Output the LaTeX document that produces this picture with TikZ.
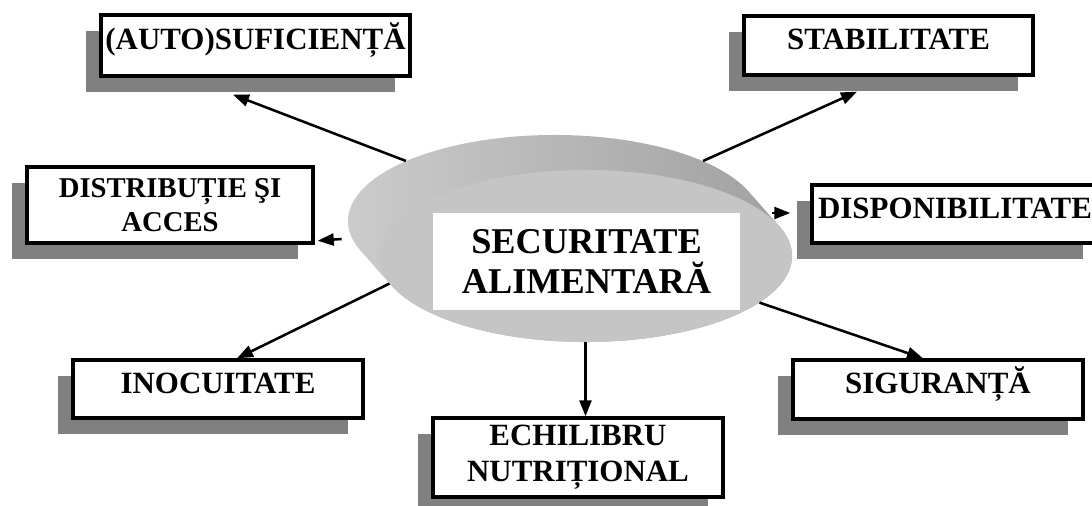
\documentclass[tikz,border=0pt]{standalone}
\usepackage{fontspec}
\setmainfont{Liberation Serif}
\usetikzlibrary{shapes.geometric,shadows,arrows.meta}

\definecolor{shadowgray}{RGB}{128,128,128}
\definecolor{discface}{RGB}{197,197,197}

\tikzset{
  box/.style={draw, line width=2.4pt, fill=white, align=center, inner xsep=1pt,
    font=\fontsize{22}{25.5}\selectfont\bfseries,
    drop shadow={shadow xshift=-0.375cm, shadow yshift=-0.4cm, fill=shadowgray, opacity=1}},
  single/.style={text height=0.5cm, text depth=0.3cm},
  link/.style={line width=1.8pt, -{Triangle[length=4mm,width=3mm]}},
  rim/.style={ellipse, minimum width=10.325cm, minimum height=4.3cm, inner sep=0pt}
}

\begin{document}
\begin{tikzpicture}[x=0.025cm, y=-0.025cm]
            \useasboundingbox (0,0) rectangle (1092,506);

            % the disc
            \begin{scope}
              \clip \foreach \k in {0,...,20} {(554.5+1.55*\k,221+1.75*\k) ellipse [x radius=5.1625cm, y radius=2.15cm]};
              \shade[left color=black!20, right color=black!38] (340,120) rectangle (810,360);
            \end{scope}
            \node[rim] (back) at (554.5,221) {};
            \node[rim, fill=discface] (front) at (585.5,256) {};
            \node[fill=white, minimum width=7.675cm, minimum height=2.425cm, align=center,
                  font=\fontsize{25.8}{28.5}\selectfont\bfseries] (sec) at (586.5,261.5) {SECURITATE\\ALIMENTARĂ};

            \node[box, single, minimum width=7.725cm, minimum height=1.525cm] (auto) at (255.5,45.5) {(AUTO)SUFICIENȚĂ};
            \node[box, single, minimum width=7.225cm, minimum height=1.475cm] (stab) at (888.5,45.5) {STABILITATE};
            \node[box, single, minimum width=7.15cm, minimum height=1.45cm] (disp) at (955,214) {DISPONIBILITATE};
            \node[box, minimum width=7.15cm, minimum height=1.9cm, font=\fontsize{20.4}{24}\selectfont\bfseries] (dist) at (170,205) {DISTRIBUȚIE ŞI\\ACCES};
            \node[box, single, minimum width=7.25cm, minimum height=1.45cm] (inoc) at (218,389) {INOCUITATE};
            \node[box, minimum width=7.25cm, minimum height=1.975cm] (echi) at (578,457.5) {ECHILIBRU\\NUTRIȚIONAL};
            \node[box, single, minimum width=7.25cm, minimum height=1.475cm] (sig) at (938,389.5) {SIGURANȚĂ};

            \draw[link] (back.158) -- ([shift={(-22.5,17)}]auto.south);
            \draw[link] (back.22) -- ([shift={(-31.5,15)}]stab.south);
            \draw[link] ([shift={(-38,-1)}]disp.west) -- ([shift={(-20,-1)}]disp.west);
            \draw[link] ([shift={(-6,18)}]back.west) -- ([shift={(3,-4)}]dist.south east);
            \draw[link] (front.188) -- ([shift={(19,0)}]inoc.north);
            \draw[link] (front.south) -- (front.south |- echi.north);
            \draw[link] (front.-15) -- ([shift={(-15,0)}]sig.north);
\end{tikzpicture}
\end{document}
